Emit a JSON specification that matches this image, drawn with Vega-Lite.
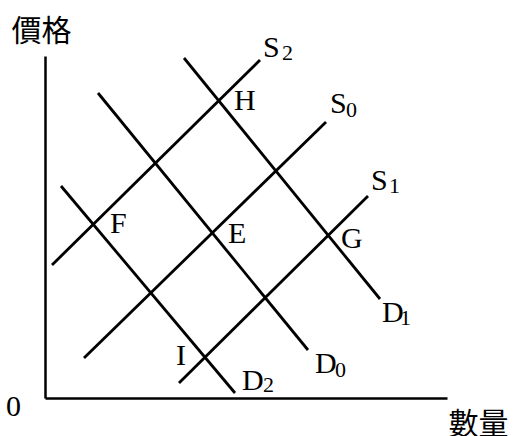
{
  "$schema": "https://vega.github.io/schema/vega-lite/v6.json",
  "width": 402,
  "height": 342,
  "autosize": {"type": "none"},
  "padding": {"left": 45, "top": 56, "right": 66, "bottom": 38},
  "config": {"view": {"stroke": null}},
  "datasets": {
    "curves": [
      {"curve": "S2", "q": 7, "p": 133},
      {"curve": "S2", "q": 215, "p": 338},
      {"curve": "S0", "q": 39, "p": 40},
      {"curve": "S0", "q": 281, "p": 276},
      {"curve": "S1", "q": 134, "p": 15},
      {"curve": "S1", "q": 323, "p": 202},
      {"curve": "D1", "q": 139, "p": 340},
      {"curve": "D1", "q": 335, "p": 99},
      {"curve": "D0", "q": 53, "p": 305},
      {"curve": "D0", "q": 263, "p": 48},
      {"curve": "D2", "q": 16, "p": 212},
      {"curve": "D2", "q": 190, "p": 5}
    ],
    "labels": [
      {"t": "S", "q": 218, "p": 341},
      {"t": "S", "q": 285, "p": 285},
      {"t": "S", "q": 326, "p": 208},
      {"t": "D", "q": 337, "p": 76},
      {"t": "D", "q": 270, "p": 25},
      {"t": "D", "q": 197, "p": 8},
      {"t": "H", "q": 189, "p": 288},
      {"t": "F", "q": 65, "p": 165},
      {"t": "E", "q": 183, "p": 155},
      {"t": "G", "q": 296, "p": 150},
      {"t": "I", "q": 131, "p": 33},
      {"t": "0", "q": -39, "p": -18}
    ],
    "subs": [
      {"t": "2", "q": 237, "p": 338},
      {"t": "0", "q": 301, "p": 281},
      {"t": "1", "q": 344, "p": 205},
      {"t": "1", "q": 355, "p": 73},
      {"t": "0", "q": 290, "p": 21},
      {"t": "2", "q": 218, "p": 6}
    ]
  },
  "layer": [
    {
      "data": {"name": "curves"},
      "mark": {"type": "line", "color": "black", "strokeWidth": 2.8, "strokeCap": "butt"},
      "encoding": {
        "x": {
          "field": "q",
          "type": "quantitative",
          "scale": {"domain": [0, 402], "nice": false, "zero": false},
          "axis": {
            "title": "數量",
            "domain": true,
            "domainColor": "black",
            "domainWidth": 2.5,
            "ticks": false,
            "labels": false,
            "grid": false,
            "titleFont": "Noto Sans CJK TC",
            "titleFontSize": 30,
            "titleFontWeight": "normal",
            "titleColor": "black",
            "titleAlign": "left",
            "titleBaseline": "alphabetic",
            "titleX": 403,
            "titleY": 35
          }
        },
        "y": {
          "field": "p",
          "type": "quantitative",
          "scale": {"domain": [0, 342], "nice": false, "zero": false},
          "axis": {
            "title": "價格",
            "domain": true,
            "domainColor": "black",
            "domainWidth": 2.5,
            "ticks": false,
            "labels": false,
            "grid": false,
            "titleFont": "Noto Sans CJK TC",
            "titleFontSize": 30,
            "titleFontWeight": "normal",
            "titleColor": "black",
            "titleAngle": 0,
            "titleAlign": "left",
            "titleBaseline": "alphabetic",
            "titleX": -34,
            "titleY": -16
          }
        },
        "detail": {"field": "curve"}
      }
    },
    {
      "data": {"name": "labels"},
      "mark": {"type": "text", "align": "left", "baseline": "alphabetic", "font": "Liberation Serif", "fontSize": 30, "color": "black"},
      "encoding": {
        "x": {"field": "q", "type": "quantitative"},
        "y": {"field": "p", "type": "quantitative"},
        "text": {"field": "t"}
      }
    },
    {
      "data": {"name": "subs"},
      "mark": {"type": "text", "align": "left", "baseline": "alphabetic", "font": "Liberation Serif", "fontSize": 22, "color": "black"},
      "encoding": {
        "x": {"field": "q", "type": "quantitative"},
        "y": {"field": "p", "type": "quantitative"},
        "text": {"field": "t"}
      }
    }
  ]
}
